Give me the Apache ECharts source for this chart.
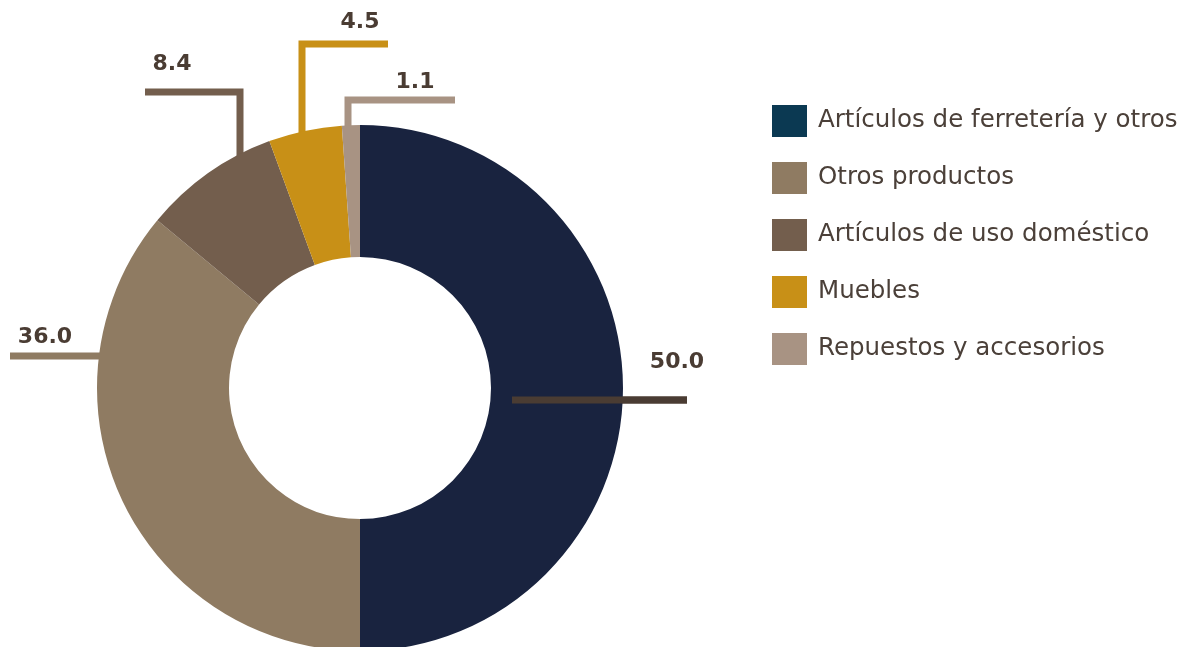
<!DOCTYPE html>
<html>
<head>
<meta charset="utf-8">
<script src="https://cdn.jsdelivr.net/npm/echarts@6/dist/echarts.min.js"></script>
<style>html,body{margin:0;padding:0;background:#fff;}#c{width:1194px;height:647px;}</style>
</head>
<body>
<div id="c"></div>
<script>
const categories = ['Artículos de ferretería y otros', 'Otros productos', 'Artículos de uso doméstico', 'Muebles', 'Repuestos y accesorios'];
const values = [50.0, 36.0, 8.4, 4.5, 1.1];
const sliceColors = ['#19233F', '#8F7B62', '#735E4D', '#C89017', '#A89383'];
const legendColors = ['#0B3952', '#8F7B62', '#735E4D', '#C89017', '#A89383'];
const lineColors = ['#4A3C33', '#8F7B62', '#735E4D', '#C89017', '#A89383'];

const CX = 360, CY = 388, R_IN = 131, R_OUT = 263;
const edgeY = dx => CY - Math.sqrt(R_OUT * R_OUT - dx * dx);
// annotation placement (label centre + leader line) relative to the donut centre
function layoutFor(i) {
  switch (i) {
    case 0: return { x: CX + 317, y: CY - 26, pts: [[CX + 152, CY + 12], [CX + 327, CY + 12]] };
    case 1: return { x: CX - 315, y: CY - 51, pts: [[CX - 350, CY - 32], [CX - 259, CY - 32]] };
    case 2: return { x: CX - 188, y: CY - 324, pts: [[CX - 215, CY - 296], [CX - 120, CY - 296], [CX - 120, edgeY(-120) + 2]] };
    case 3: return { x: CX, y: CY - 366, pts: [[CX + 28, CY - 344], [CX - 58, CY - 344], [CX - 58, edgeY(-58) + 2]] };
    default: return { x: CX + 55, y: CY - 306, pts: [[CX + 95, CY - 288], [CX - 12, CY - 288], [CX - 12, edgeY(-12) + 2]] };
  }
}
const first = layoutFor(0).pts;

const chart = echarts.init(document.getElementById('c'), null, { renderer: 'canvas' });
chart.setOption({
  animation: false,
  backgroundColor: '#fff',
  legend: {
    orient: 'vertical',
    left: 767,
    top: 100,
    itemWidth: 35,
    itemHeight: 32,
    itemGap: 25,
    icon: 'rect',
    textStyle: { fontFamily: 'DejaVu Sans', fontSize: 24.5, color: '#4B4039', padding: [0, 0, 0, 6], lineHeight: 32 },
    data: categories.map((n, i) => ({ name: n, itemStyle: { color: legendColors[i] } }))
  },
  graphic: [{
    type: 'line',
    z: 100,
    shape: { x1: first[0][0], y1: first[0][1], x2: first[1][0], y2: first[1][1] },
    style: { stroke: lineColors[0], lineWidth: 7 }
  }],
  series: [{
    type: 'pie',
    center: [CX, CY],
    radius: [R_IN, R_OUT],
    startAngle: 90,
    clockwise: true,
    avoidLabelOverlap: false,
    label: {
      show: true,
      position: 'outside',
      formatter: p => p.value.toFixed(1),
      fontFamily: 'DejaVu Sans',
      fontWeight: 'bold',
      fontSize: 22,
      color: '#4A3C33'
    },
    labelLine: { show: true, lineStyle: { width: 7, cap: 'butt', join: 'miter' } },
    labelLayout: p => {
      const l = layoutFor(p.dataIndex);
      return { x: l.x, y: l.y, align: 'center', verticalAlign: 'middle', labelLinePoints: l.pts };
    },
    data: categories.map((n, i) => ({
      name: n,
      value: values[i],
      itemStyle: { color: sliceColors[i] },
      labelLine: { lineStyle: { color: lineColors[i], width: 7 } }
    }))
  }]
});
</script>
</body>
</html>
